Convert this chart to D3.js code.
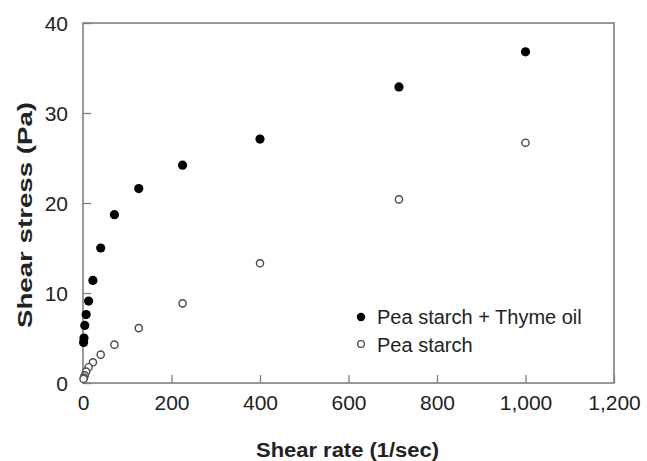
<!DOCTYPE html>
<html>
<head>
<meta charset="utf-8">
<script src="https://cdn.jsdelivr.net/npm/d3@7"></script>
<style>
  body { margin: 0; background: #fff; }
  svg text { font-family: "Liberation Sans", Arial, sans-serif; fill: #222; }
</style>
</head>
<body>
<svg id="chart" width="647" height="461"></svg>
<script>
// shear rate (1/sec), shared by both samples
var shear_rate = [1000, 714, 400, 225, 126, 71, 40, 22.4, 12.6, 7.1, 4, 2.2, 1.3];
// shear stress (Pa)
var stress_thyme = [36.8, 32.9, 27.1, 24.2, 21.6, 18.7, 15.0, 11.4, 9.1, 7.6, 6.4, 5.0, 4.5];
var stress_starch = [26.7, 20.4, 13.3, 8.85, 6.1, 4.26, 3.15, 2.3, 1.75, 1.26, 0.85, 0.6, 0.45];

var x_ticks = [0, 200, 400, 600, 800, 1000, 1200];
var y_ticks = [0, 10, 20, 30, 40];
var series_names = ['Pea starch + Thyme oil', 'Pea starch'];

var svg = d3.select('#chart');
var plot_left = 83, plot_right = 614, plot_top = 23, plot_bottom = 383;

var x = d3.scaleLinear().domain([0, 1200]).range([plot_left, plot_right]);
var y = d3.scaleLinear().domain([0, 40]).range([plot_bottom, plot_top]);

// ticks (inside)
var xAxis = d3.axisBottom(x).tickValues(x_ticks).tickSizeInner(-8).tickSizeOuter(0)
    .tickFormat(d3.format(','));
var gx = svg.append('g').attr('transform', 'translate(0,' + plot_bottom + ')').call(xAxis);
gx.select('.domain').remove();
gx.selectAll('line').attr('stroke', '#7f7f7f').attr('stroke-width', 1.3);
gx.selectAll('text').attr('y', 27).attr('dy', 0).style('font-size', '21px')
  .attr('fill', '#222');

var yAxis = d3.axisLeft(y).tickValues(y_ticks).tickSizeInner(-8).tickSizeOuter(0);
var gy = svg.append('g').attr('transform', 'translate(' + plot_left + ',0)').call(yAxis);
gy.select('.domain').remove();
gy.selectAll('line').attr('stroke', '#7f7f7f').attr('stroke-width', 1.3);
gy.selectAll('text').attr('x', -15).attr('dy', '0.36em').style('font-size', '21px')
  .attr('fill', '#222');
svg.selectAll('g').attr('font-family', null).attr('font-size', null);

// frame
svg.append('rect')
    .attr('x', plot_left).attr('y', plot_top)
    .attr('width', plot_right - plot_left).attr('height', plot_bottom - plot_top)
    .attr('fill', 'none').attr('stroke', '#7f7f7f').attr('stroke-width', 1.6);

// titles
svg.append('text')
    .attr('x', (plot_left + plot_right) / 2 - 1).attr('y', 457)
    .attr('text-anchor', 'middle')
    .style('font-size', '20px').style('font-weight', 'bold')
    .attr('textLength', 183).attr('lengthAdjust', 'spacingAndGlyphs')
    .text('Shear rate (1/sec)');

svg.append('text')
    .attr('transform', 'translate(32,215) rotate(-90)')
    .attr('text-anchor', 'middle')
    .style('font-size', '21px').style('font-weight', 'bold')
    .attr('textLength', 226).attr('lengthAdjust', 'spacingAndGlyphs')
    .text('Shear stress (Pa)');

// points
var pts_starch = shear_rate.map(function(r, i) { return {x: r, y: stress_starch[i]}; });
var pts_thyme = shear_rate.map(function(r, i) { return {x: r, y: stress_thyme[i]}; });

svg.append('g').selectAll('circle')
    .data(pts_starch).enter().append('circle')
    .attr('cx', function(d) { return x(d.x); })
    .attr('cy', function(d) { return y(d.y); })
    .attr('r', 3.6)
    .attr('fill', '#fff').attr('stroke', '#4a4a4a').attr('stroke-width', 1.4);

svg.append('g').selectAll('circle')
    .data(pts_thyme).enter().append('circle')
    .attr('cx', function(d) { return x(d.x); })
    .attr('cy', function(d) { return y(d.y); })
    .attr('r', 4.6)
    .attr('fill', '#000');

// legend
var legend = svg.append('g');
legend.append('circle').attr('cx', 361).attr('cy', 317).attr('r', 4.2).attr('fill', '#000');
legend.append('circle').attr('cx', 361).attr('cy', 344).attr('r', 3.4)
    .attr('fill', '#fff').attr('stroke', '#4a4a4a').attr('stroke-width', 1.3);
legend.selectAll('text.lab')
    .data(series_names).enter().append('text')
    .attr('class', 'lab')
    .attr('x', 377)
    .attr('y', function(d, i) { return 324 + i * 28; })
    .style('font-size', '20px')
    .text(function(d) { return d; });
</script>
</body>
</html>
